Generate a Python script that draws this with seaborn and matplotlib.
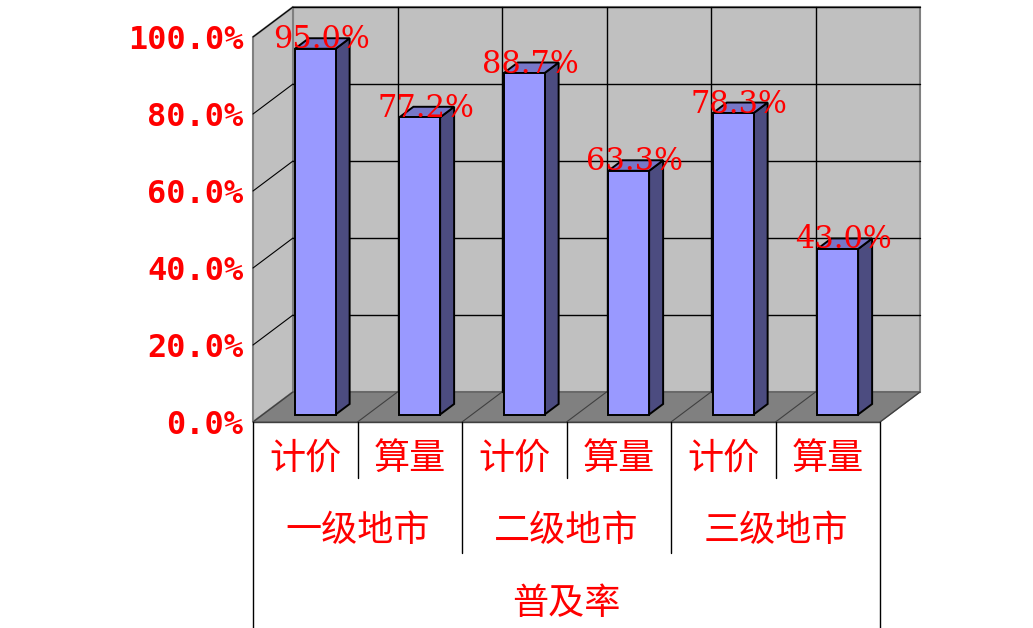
import seaborn as sns
import matplotlib.pyplot as plt
import pandas as pd
from matplotlib.patches import Polygon

# chart data
methods = ['计价', '算量', '计价', '算量', '计价', '算量']
cities = ['一级地市', '二级地市', '三级地市']
values = [0.950, 0.772, 0.887, 0.633, 0.783, 0.430]
yticks = [0.0, 0.2, 0.4, 0.6, 0.8, 1.0]
group_name = '普及率'

sns.set_theme(style='white')
plt.rcParams['font.family'] = ['Noto Sans CJK SC', 'DejaVu Sans']

df = pd.DataFrame({'pos': range(len(values)), 'method': methods, 'value': values})

W, H = 1033, 628
fig = plt.figure(figsize=(W / 100, H / 100), dpi=100)
L, R, B, T = 253, 880, 422, 37   # front plane in pixels
ax = fig.add_axes([L / W, 1 - B / H, (R - L) / W, (B - T) / H])

sns.barplot(data=df, x='pos', y='value', ax=ax, width=0.39, color='#9999FF',
            saturation=1, edgecolor='black', linewidth=1.4)
bars = list(ax.patches)

n = len(values)
ax.set_xlim(-0.5, n - 0.5)
ax.set_ylim(0, 1)

ux = (R - L) / n
uy = (B - T)
DX, DY = 40 / ux, 30 / uy   # full depth of the box in data units


def sh(x, y, d):
    return (x + DX * d, y + DY * d)


red = '#FF0000'
wall = '#C0C0C0'
floor = '#808080'
x0, x1 = -0.5, n - 0.5

# walls
ax.add_patch(Polygon([sh(x0, 0, 1), sh(x1, 0, 1), sh(x1, 1, 1), sh(x0, 1, 1)],
                     closed=True, fc=wall, ec='#808080', lw=1.5, zorder=0.5, clip_on=False))
ax.add_patch(Polygon([(x0, 0), (x0, 1), sh(x0, 1, 1), sh(x0, 0, 1)],
                     closed=True, fc=wall, ec='#808080', lw=1.5, zorder=0.6, clip_on=False))
ax.add_patch(Polygon([(x0, 0), (x1, 0), sh(x1, 0, 1), sh(x0, 0, 1)],
                     closed=True, fc=floor, ec='#606060', lw=1, zorder=0.7, clip_on=False))

# grid lines on back wall and left wall
for yv in yticks[1:]:
    a, b = sh(x0, yv, 1), sh(x1, yv, 1)
    ax.plot([a[0], b[0]], [a[1], b[1]], color='black', lw=1, zorder=0.8, clip_on=False)
    c = sh(x0, yv, 0)
    ax.plot([c[0], a[0]], [c[1], a[1]], color='black', lw=0.8, zorder=0.8, clip_on=False)
for k in range(1, n):
    xb = k - 0.5
    a, b = sh(xb, 0, 1), sh(xb, 1, 1)
    ax.plot([a[0], b[0]], [a[1], b[1]], color='black', lw=1, zorder=0.8, clip_on=False)
for k in range(n + 1):
    xb = k - 0.5
    a = sh(xb, 0, 1)
    ax.plot([xb, a[0]], [0, a[1]], color='#404040', lw=0.8, zorder=0.8, clip_on=False)

# 3d bars: move front face, add side and top faces
df_front, df_back = 0.25, 0.6
for p, v in zip(bars, values):
    bx, w, h = p.get_x(), p.get_width(), p.get_height()
    p.set_x(bx + DX * df_front)
    p.set_y(DY * df_front)
    p.set_zorder(4)
    p.set_clip_on(False)
    side = [sh(bx + w, 0, df_front), sh(bx + w, h, df_front),
            sh(bx + w, h, df_back), sh(bx + w, 0, df_back)]
    top = [sh(bx, h, df_front), sh(bx + w, h, df_front),
           sh(bx + w, h, df_back), sh(bx, h, df_back)]
    ax.add_patch(Polygon(side, closed=True, fc='#4C4C80', ec='black', lw=1.4,
                         zorder=3.5, clip_on=False))
    ax.add_patch(Polygon(top, closed=True, fc='#7777C8', ec='black', lw=1.4,
                         zorder=3.5, clip_on=False))
    lx, ly = sh(bx + w / 2, v, 0.4)
    ax.text(lx, v + DY * 0.55, f'{v * 100:.1f}%', ha='center', va='center',
            color=red, fontsize=22, family='DejaVu Serif', zorder=6, clip_on=False)

# axes cosmetics
sns.despine(ax=ax, left=True, bottom=True)
ax.set_facecolor('none')
ax.set_xlabel('')
ax.set_ylabel('')
ax.set_xticks([])
ax.set_yticks(yticks)
ax.set_yticklabels([f'{t * 100:.1f}%' for t in yticks], color=red, fontsize=23,
                   fontweight='bold', family='DejaVu Sans Mono')
ax.tick_params(axis='y', length=0, pad=7)

# category table below the chart
ax.plot([x0, x1], [0, 0], color='#404040', lw=1, zorder=0.9, clip_on=False)
y_row1, y_row2, y_bot = (B - 478) / uy, (B - 553) / uy, (B - H) / uy
for xb in [x0, x1]:
    ax.plot([xb, xb], [0, y_bot], color='black', lw=1, clip_on=False)
for k in range(1, n):
    xb = k - 0.5
    yend = y_row2 if k % 2 == 0 else y_row1
    ax.plot([xb, xb], [0, yend], color='black', lw=1, clip_on=False)
for i, m in enumerate(methods):
    ax.text(i, (B - 459) / uy, m, ha='center', va='center', color=red, fontsize=26,
            clip_on=False)
for j, c in enumerate(cities):
    ax.text(2 * j + 0.5, (B - 531) / uy, c, ha='center', va='center', color=red,
            fontsize=26, clip_on=False)
ax.text((x0 + x1) / 2, (B - 604) / uy, group_name, ha='center', va='center', color=red,
        fontsize=26, clip_on=False)

fig.savefig('out.png', dpi=100)
